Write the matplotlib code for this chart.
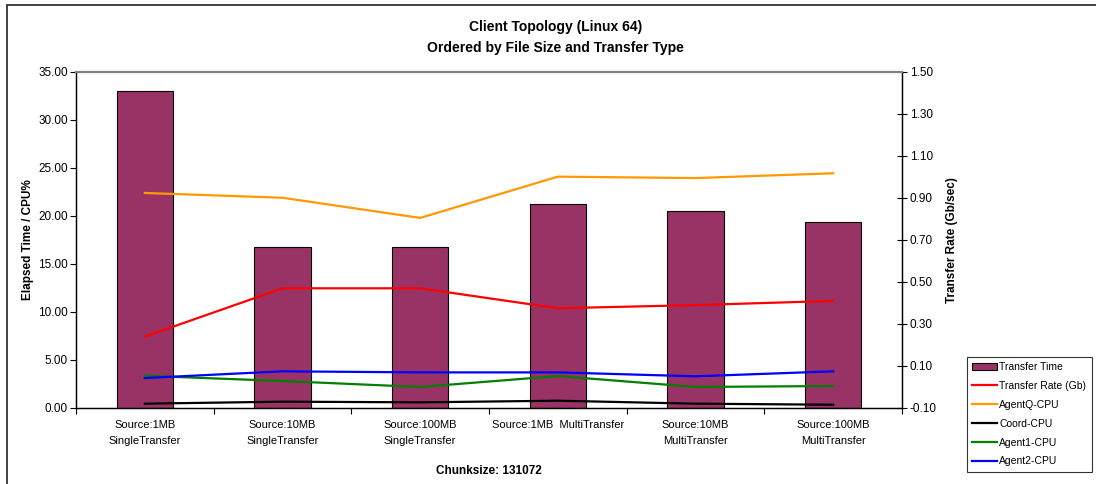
import matplotlib
matplotlib.use("Agg")
import matplotlib.pyplot as plt
from matplotlib.patches import Rectangle, Patch
from matplotlib.lines import Line2D
import numpy as np

plt.rcParams['font.family'] = ['Liberation Sans', 'DejaVu Sans']

categories = ["Source:1MB\nSingleTransfer", "Source:10MB\nSingleTransfer",
              "Source:100MB\nSingleTransfer", "Source:1MB  MultiTransfer",
              "Source:10MB\nMultiTransfer", "Source:100MB\nMultiTransfer"]
transfer_time = [33.0, 16.8, 16.8, 21.2, 20.5, 19.35]
transfer_rate = [0.24, 0.47, 0.47, 0.375, 0.39, 0.41]
agentq_cpu = [22.4, 21.9, 19.8, 24.1, 23.95, 24.45]
coord_cpu = [0.45, 0.66, 0.59, 0.76, 0.45, 0.34]
agent1_cpu = [3.36, 2.81, 2.19, 3.33, 2.19, 2.29]
agent2_cpu = [3.12, 3.82, 3.71, 3.71, 3.30, 3.82]

left_ticks = [0, 5, 10, 15, 20, 25, 30, 35]
right_ticks = [-0.10, 0.10, 0.30, 0.50, 0.70, 0.90, 1.10, 1.30, 1.50]

W, H = 1096, 484
fig = plt.figure(figsize=(W / 100, H / 100), dpi=100)
fig.patch.set_facecolor('white')

# chart-area frame (left and top edges visible)
fig.add_artist(Rectangle((7 / W, -0.05), 1.2, 1 - 5 / H + 0.05,
                         transform=fig.transFigure, fill=False,
                         edgecolor='#222222', linewidth=1.2))

x0, x1, y0, y1 = 76, 902, 72, 408
ax = fig.add_axes([x0 / W, 1 - y1 / H, (x1 - x0) / W, (y1 - y0) / H])
ax2 = ax.twinx()

n = len(categories)
xc = np.arange(n) + 0.5
bar_color = '#993366'
ax.bar(xc, transfer_time, width=0.41, color=bar_color, edgecolor='black',
       linewidth=0.8, zorder=2)

line_lw = 1.6
ax.plot(xc, agentq_cpu, color='#FF9900', lw=line_lw, zorder=3)
ax.plot(xc, coord_cpu, color='black', lw=line_lw, zorder=3)
ax.plot(xc, agent1_cpu, color='#008000', lw=line_lw, zorder=3)
ax.plot(xc, agent2_cpu, color='#0000FF', lw=line_lw, zorder=3)
ax2.plot(xc, transfer_rate, color='#FF0000', lw=line_lw, zorder=3)

ax.set_xlim(0, n)
ax.set_ylim(0, 35)
ax2.set_ylim(-0.10, 1.50)

ax.set_yticks(left_ticks)
ax.set_yticklabels([f"{v:.2f}" for v in left_ticks], fontsize=8.5)
ax2.set_yticks(right_ticks)
ax2.set_yticklabels([f"{v:.2f}" for v in right_ticks], fontsize=8.5)

ax.set_xticks(np.arange(n + 1))
ax.set_xticklabels([''] * (n + 1))
ax.set_xticks(xc, minor=True)
ax.set_xticklabels(categories, minor=True, fontsize=8, linespacing=1.75)
ax.tick_params(axis='x', which='major', direction='out', length=4, width=0.8)
ax.tick_params(axis='x', which='minor', length=0, pad=9)
ax.tick_params(axis='y', direction='out', length=4, width=0.8, pad=2)
ax2.tick_params(axis='y', direction='inout', length=7, width=0.8, pad=2)

for a in (ax, ax2):
    a.spines['top'].set_color('#808080')
    a.spines['top'].set_linewidth(1.5)
    a.spines['left'].set_linewidth(0.9)
    a.spines['right'].set_linewidth(0.9)
    a.spines['bottom'].set_linewidth(0.9)

ax.set_ylabel("Elapsed Time / CPU%", fontsize=8.5, fontweight='bold')
ax.yaxis.set_label_coords(-0.051, 0.5)
ax2.set_ylabel("Transfer Rate (Gb/sec)", fontsize=8.5, fontweight='bold')
ax2.yaxis.set_label_coords(1.053, 0.5)
ax.set_xlabel("Chunksize: 131072", fontsize=8.5, fontweight='bold')
ax.xaxis.set_label_coords(0.5, -0.17)

fig.text(0.507, 1 - 27 / H, "Client Topology (Linux 64)", ha='center', va='center',
         fontsize=10, fontweight='bold')
fig.text(0.507, 1 - 48 / H, "Ordered by File Size and Transfer Type", ha='center',
         va='center', fontsize=10, fontweight='bold')

handles = [Patch(facecolor=bar_color, edgecolor='black', linewidth=0.8),
           Line2D([], [], color='#FF0000', lw=line_lw),
           Line2D([], [], color='#FF9900', lw=line_lw),
           Line2D([], [], color='black', lw=line_lw),
           Line2D([], [], color='#008000', lw=line_lw),
           Line2D([], [], color='#0000FF', lw=line_lw)]
labels = ["Transfer Time", "Transfer Rate (Gb)", "AgentQ-CPU", "Coord-CPU",
          "Agent1-CPU", "Agent2-CPU"]
leg = fig.legend(handles, labels, loc='upper left',
                 bbox_to_anchor=(967 / W, 1 - 357 / H), fontsize=7.5,
                 frameon=True, fancybox=False, shadow=False, borderaxespad=0,
                 handlelength=2.4, handletextpad=0.2, labelspacing=0.85,
                 borderpad=0.5)
leg.get_frame().set_edgecolor('black')
leg.get_frame().set_linewidth(0.8)

fig.savefig("out.png", dpi=100)
